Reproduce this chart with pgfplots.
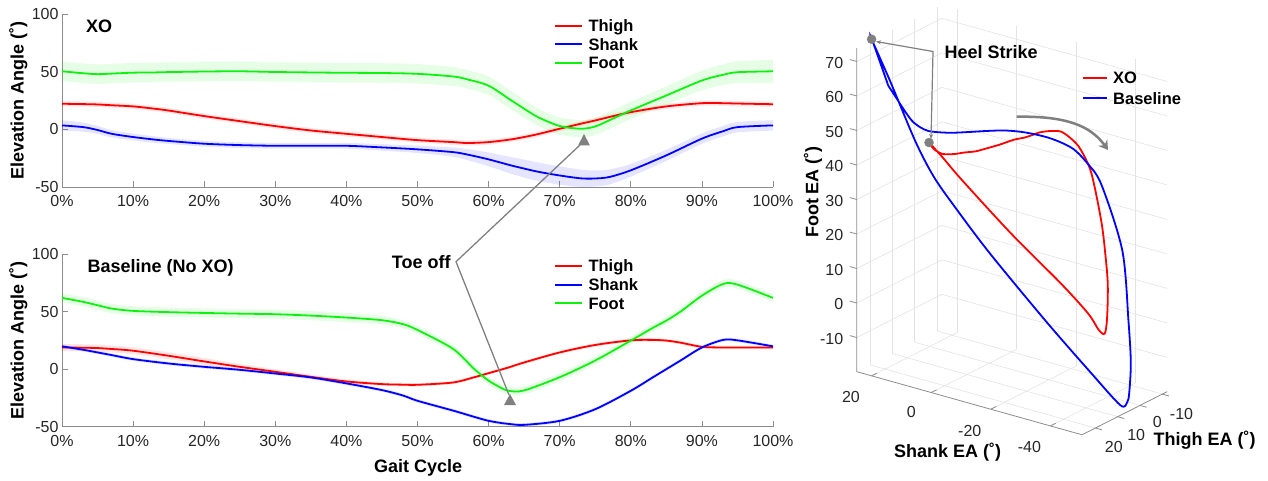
\documentclass[border=0pt]{standalone}
\usepackage{fontspec}
\setmainfont{Liberation Sans}
\usepackage{pgfplots}
\pgfplotsset{compat=1.18}
\usepackage{pgfplotstable}
\usepgfplotslibrary{fillbetween}
\usetikzlibrary{arrows.meta}

\definecolor{cR}{rgb}{1,0,0}
\definecolor{cB}{rgb}{0,0,1}
\definecolor{cG}{rgb}{0.05,0.95,0.05}
\definecolor{axg}{rgb}{0.55,0.55,0.55}
\definecolor{tickc}{rgb}{0.15,0.15,0.15}
\definecolor{anng}{rgb}{0.5,0.5,0.5}
\newcommand\tickfont{\fontsize{16}{18}\selectfont}
\newcommand\lblfont{\fontsize{18}{20}\selectfont\bfseries}
\newcommand\legfont{\fontsize{16.5}{18}\selectfont\bfseries}

\pgfplotstableread{
t thigh thsd shank shsd foot ftsd
0 22.3 2.2 3.5 4.5 50.5 8.5
3 22.0 2.2 2.0 4.0 48.8 8.5
5 21.7 2.2 -0.5 3.5 48.0 8.5
7 21.0 2.2 -3.8 3.2 48.5 8.5
10 20.0 2.2 -6.6 3.0 49.3 8.5
13 18.0 2.2 -8.8 2.8 49.5 8.5
15 16.4 2.2 -10.0 2.6 49.8 8.5
20 11.6 2.2 -12.4 2.5 50.3 8.5
25 7.2 2.2 -13.6 2.5 50.5 8.5
30 2.9 2.2 -14.2 2.5 49.9 8.5
35 -0.9 2.2 -14.2 2.5 49.5 8.5
40 -3.8 2.2 -14.2 2.5 49.2 8.5
45 -6.6 2.2 -15.6 2.8 49.0 8.5
50 -9.3 2.2 -17.3 3.2 48.3 8.5
55 -11.0 2.2 -19.7 4.0 46.0 8.2
57 -11.8 2.2 -21.8 4.8 43.5 8.0
60 -11.0 2.2 -26.0 6.0 38.0 8.0
63 -8.8 2.2 -31.0 7.2 26.0 8.0
65 -6.6 2.2 -34.0 7.8 18.0 7.8
67 -4.0 2.2 -36.8 8.0 10.5 7.5
70 0.6 2.2 -40.0 8.0 3.0 7.5
73 5.0 2.2 -42.5 7.5 0.6 7.5
75 7.8 2.2 -42.6 7.0 2.6 7.5
77 10.8 2.2 -41.3 6.5 8.0 7.5
80 15.0 2.2 -35.5 5.5 16.5 7.5
85 20.0 2.2 -22.5 4.8 29.5 8.0
90 22.8 2.2 -8.0 4.5 42.5 8.5
93 22.8 2.2 -1.5 4.5 47.5 9.0
95 22.5 2.2 2.0 4.5 49.7 9.5
100 21.9 2.2 3.5 4.5 50.5 10.0
}\xo

\pgfplotstableread{
t thigh thsd shank shsd foot ftsd
0 18.8 3.0 19.8 1.5 61.9 4.0
3 18.6 3.0 16.8 1.5 58.4 4.0
5 18.3 3.0 14.5 1.5 55.5 4.0
7 17.5 3.0 12.2 1.5 52.6 4.0
10 16.0 3.0 8.7 1.5 50.6 4.0
15 11.6 3.0 4.9 1.5 49.5 4.0
20 6.7 3.0 2.0 1.5 48.8 4.0
25 2.0 2.5 -0.6 1.5 48.2 4.0
30 -2.3 2.2 -3.8 1.5 47.7 4.0
35 -6.7 2.0 -7.2 1.5 46.5 4.0
40 -10.7 1.8 -12.4 1.5 44.8 4.0
45 -13.0 1.5 -18.2 1.5 42.5 3.8
48 -13.5 1.5 -23.0 1.5 39.0 3.5
50 -13.6 1.5 -27.5 1.5 34.0 3.5
55 -11.6 1.5 -36.0 1.5 17.6 3.5
58 -7.0 1.5 -41.5 1.5 0.0 3.5
60 -3.5 1.5 -44.9 1.5 -10.0 3.5
62 0.0 1.5 -47.0 1.5 -17.0 3.5
63 1.8 1.5 -47.7 1.5 -19.0 3.5
65 5.8 1.5 -48.4 1.5 -18.5 3.5
70 14.5 1.5 -44.9 1.5 -7.0 3.5
75 21.0 1.5 -34.8 1.5 7.5 3.5
80 25.0 1.5 -18.8 1.5 24.8 3.5
83 25.4 1.5 -7.5 1.5 35.5 3.5
85 24.8 1.5 0.0 1.5 42.2 3.5
87 23.0 1.5 7.5 1.5 50.0 3.5
90 19.4 1.5 18.8 1.5 63.8 3.5
93 18.8 1.5 25.4 1.5 74.0 3.5
95 18.8 1.5 25.0 1.5 73.4 3.5
100 18.8 1.5 19.8 1.5 61.9 3.5
}\base

\pgfplotsset{
  gait/.style={
    scale only axis, width=711pt, height=172.7pt,
    xmin=0, xmax=100, ymin=-50, ymax=100,
    axis x line*=bottom, axis y line*=left,
    axis line style={axg, line width=0.8pt},
    xtick={0,10,...,100}, ytick={-50,0,50,100},
    xticklabel={\pgfmathprintnumber{\tick}\%},
    xticklabel style={yshift=-5pt},
    tick align=inside, major tick length=6pt,
    tick style={axg, line width=0.8pt},
    tick label style={font=\tickfont, text=tickc},
    /pgf/number format/assume math mode=true,
    ylabel={Elevation Angle (\char"02DA)},
    ylabel style={font=\lblfont, at={(axis description cs:-0.0615,0.5)}, anchor=center},
    clip=false,
  },
  band/.style={draw=none, forget plot, smooth},
  ln/.style={line width=1.8pt, smooth, forget plot},
}

\begin{document}
\begin{tikzpicture}

% ---------- top: XO ----------
\begin{axis}[gait, at={(62pt,-187pt)}, anchor=south west]
\addplot[band, name path=thu] table[x=t, y expr=\thisrow{thigh}+\thisrow{thsd}] {\xo};
\addplot[band, name path=thl] table[x=t, y expr=\thisrow{thigh}-\thisrow{thsd}] {\xo};
\addplot[fill=cR, fill opacity=0.10, forget plot] fill between[of=thu and thl];
\addplot[band, name path=shu] table[x=t, y expr=\thisrow{shank}+\thisrow{shsd}] {\xo};
\addplot[band, name path=shl] table[x=t, y expr=\thisrow{shank}-\thisrow{shsd}] {\xo};
\addplot[fill=cB, fill opacity=0.10, forget plot] fill between[of=shu and shl];
\addplot[band, name path=ftu] table[x=t, y expr=\thisrow{foot}+\thisrow{ftsd}] {\xo};
\addplot[band, name path=ftl] table[x=t, y expr=\thisrow{foot}-\thisrow{ftsd}] {\xo};
\addplot[fill=cG, fill opacity=0.10, forget plot] fill between[of=ftu and ftl];
\addplot[ln, cR] table[x=t, y=thigh] {\xo};
\addplot[ln, cB] table[x=t, y=shank] {\xo};
\addplot[ln, cG] table[x=t, y=foot] {\xo};
\node[font=\lblfont, anchor=west] at (axis description cs:0.029,0.929) {XO};
\end{axis}

% ---------- bottom: Baseline ----------
\begin{axis}[gait, at={(62pt,-426.7pt)}, anchor=south west,
  xlabel={Gait Cycle},
  xlabel style={font=\lblfont, at={(axis description cs:0.501,-0.24)}, anchor=center}]
\addplot[band, name path=thu] table[x=t, y expr=\thisrow{thigh}+\thisrow{thsd}] {\base};
\addplot[band, name path=thl] table[x=t, y expr=\thisrow{thigh}-\thisrow{thsd}] {\base};
\addplot[fill=cR, fill opacity=0.10, forget plot] fill between[of=thu and thl];
\addplot[band, name path=shu] table[x=t, y expr=\thisrow{shank}+\thisrow{shsd}] {\base};
\addplot[band, name path=shl] table[x=t, y expr=\thisrow{shank}-\thisrow{shsd}] {\base};
\addplot[fill=cB, fill opacity=0.10, forget plot] fill between[of=shu and shl];
\addplot[band, name path=ftu] table[x=t, y expr=\thisrow{foot}+\thisrow{ftsd}] {\base};
\addplot[band, name path=ftl] table[x=t, y expr=\thisrow{foot}-\thisrow{ftsd}] {\base};
\addplot[fill=cG, fill opacity=0.10, forget plot] fill between[of=ftu and ftl];
\addplot[ln, cR] table[x=t, y=thigh] {\base};
\addplot[ln, cB] table[x=t, y=shank] {\base};
\addplot[ln, cG] table[x=t, y=foot] {\base};
\node[font=\lblfont, anchor=west] at (axis description cs:0.031,0.917) {Baseline (No XO)};
\end{axis}

% ---------- right: 3D ----------
\begin{axis}[at={(989.2pt,-294.5pt)}, anchor=origin,
  x={(-2.98pt,0.835pt)}, y={(-2.23pt,-1.13pt)}, z={(0pt,3.45pt)},
  xmin=-50.6, xmax=25, ymin=-12.2, ymax=26, zmin=-19.9, zmax=73.9,
  xtick={-40,-20,0,20}, ytick={-10,0,10,20}, ztick={-10,0,...,70},
  grid=major, grid style={line width=0.6pt, black!11},
  axis line style={draw=none},
  major tick length=0pt,
  tick label style={font=\tickfont, text=tickc},
  xticklabel style={xshift=-14pt, yshift=-10pt},
  yticklabel style={xshift=10pt, yshift=-7.5pt},
  zticklabel style={xshift=-10pt},
  /pgf/number format/assume math mode=true,
  clip=false]
\addplot3[line width=1.8pt, smooth, cR] table[x=shank, y=thigh, z=foot] {\xo};
\addplot3[line width=1.8pt, smooth, cB] table[x=shank, y=thigh, z=foot] {\base};
\addplot3[only marks, mark=*, mark size=4.5pt, anng] coordinates {(3.5,22.3,50.5) (25.4,18.8,74.0)};
\draw[axg, line width=0.8pt] (axis cs:25,26,73.9) -- (axis cs:25,26,-19.9) -- (axis cs:-50.6,26,-19.9) -- (axis cs:-50.6,-12.2,-19.9);
\pgfplotsinvokeforeach{-40,-20,0,20}{\draw[axg, line width=0.8pt] (axis cs:#1,26,-19.9) -- (axis cs:#1,23.6,-19.9);}
\pgfplotsinvokeforeach{-10,0,10,20}{\draw[axg, line width=0.8pt] (axis cs:-50.6,#1,-19.9) -- (axis cs:-52.8,#1,-19.9);}
\pgfplotsinvokeforeach{-10,0,10,20,30,40,50,60,70}{\draw[axg, line width=0.8pt] (axis cs:25,26,#1) -- (axis cs:27.3,26,#1);}
\end{axis}

% ---------- legends (line samples as thin filled bars) ----------
\fill[cR] (555pt,-25pt) rectangle (581.7pt,-27pt);
\fill[cB] (555pt,-43pt) rectangle (581.7pt,-45pt);
\fill[cG] (555pt,-62pt) rectangle (581.7pt,-64pt);
\node[font=\legfont, anchor=base west, inner sep=0pt] at (588.3pt,-31.8pt) {Thigh};
\node[font=\legfont, anchor=base west, inner sep=0pt] at (588.3pt,-50.1pt) {Shank};
\node[font=\legfont, anchor=base west, inner sep=0pt] at (588.3pt,-68.5pt) {Foot};

\fill[cR] (555pt,-265pt) rectangle (581.7pt,-267pt);
\fill[cB] (555pt,-284pt) rectangle (581.7pt,-286pt);
\fill[cG] (555pt,-302pt) rectangle (581.7pt,-304pt);
\node[font=\legfont, anchor=base west, inner sep=0pt] at (588.3pt,-271.8pt) {Thigh};
\node[font=\legfont, anchor=base west, inner sep=0pt] at (588.3pt,-290.4pt) {Shank};
\node[font=\legfont, anchor=base west, inner sep=0pt] at (588.3pt,-309.1pt) {Foot};

\fill[cR] (1083.3pt,-77pt) rectangle (1107.3pt,-79pt);
\fill[cB] (1083.3pt,-97pt) rectangle (1107.3pt,-99pt);
\node[font=\legfont, anchor=base west, inner sep=0pt] at (1113pt,-83.5pt) {XO};
\node[font=\legfont, anchor=base west, inner sep=0pt] at (1113pt,-104.1pt) {Baseline};

% ---------- annotations ----------
\node[font=\lblfont] at (421.3pt,-261.7pt) {Toe off};
\draw[anng, line width=1.3pt] (580pt,-145pt) -- (456pt,-261.7pt) -- (509pt,-395pt);
\fill[anng] (578pt,-145.5pt) -- (590pt,-145.5pt) -- (584pt,-134pt) -- cycle;
\fill[anng] (504pt,-405pt) -- (516pt,-405pt) -- (510pt,-394pt) -- cycle;

\node[font=\lblfont, anchor=west] at (941pt,-52.3pt) {Heel Strike};
\draw[anng, line width=1.2pt, {Stealth[length=5pt,width=4pt]}-{Stealth[length=5pt,width=4pt]}] (876pt,-41.5pt) -- (933pt,-51.5pt) -- (931pt,-139pt);
\draw[anng, line width=2.5pt, -{Stealth[length=9pt,width=11pt]}] (1016.7pt,-116.7pt) .. controls (1065pt,-116pt) and (1090pt,-125pt) .. (1108pt,-150pt);

\node[font=\lblfont, rotate=90] at (813pt,-192pt) {Foot EA (\char"02DA)};
\node[font=\lblfont] at (947.5pt,-451.7pt) {Shank EA (\char"02DA)};
\node[font=\lblfont] at (1204.7pt,-440pt) {Thigh EA (\char"02DA)};

\pgfresetboundingbox
\path (0,0) rectangle (1268pt,-481pt);
\end{tikzpicture}
\end{document}
